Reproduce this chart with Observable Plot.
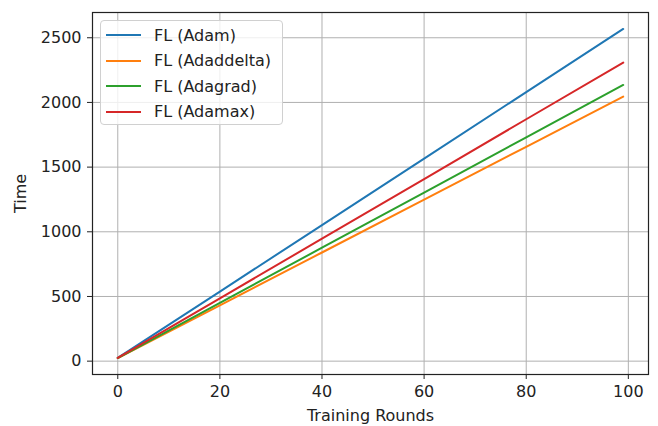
<!DOCTYPE html>
<html>
<head>
<meta charset="utf-8">
<script src="https://cdn.jsdelivr.net/npm/d3@7"></script>
<script src="https://cdn.jsdelivr.net/npm/@observablehq/plot@0.6"></script>
<style>
  body { margin: 0; background: #fff; }
  #wrap { position: relative; width: 658px; height: 426px; font-family: "DejaVu Sans", sans-serif; }
  #legend { position: absolute; left: 100px; top: 20px; width: 181px; height: 103px;
    border: 1px solid #d0d0d0; border-radius: 4px; background: rgba(255,255,255,0.8); box-sizing: content-box; }
  .row { position: absolute; left: 0; height: 20px; display: flex; align-items: center; }
  .sw { width: 35px; height: 0; border-top: 2.4px solid; margin-left: 5px; margin-right: 13px; }
  .lab { font-size: 16px; color: #222; white-space: nowrap; }
</style>
</head>
<body>
<div id="wrap"></div>
<script>
const seriesNames = ["FL (Adam)", "FL (Adaddelta)", "FL (Adagrad)", "FL (Adamax)"];
const seriesColors = ["#1f77b4", "#ff7f0e", "#2ca02c", "#d62728"];
const rounds = [0, 20, 40, 60, 80, 99];
const adamTime     = [25, 538, 1052, 1566, 2080, 2568];
const adadeltaTime = [24, 432, 840, 1249, 1657, 2045];
const adagradTime  = [24, 450, 877, 1303, 1730, 2135];
const adamaxTime   = [25, 485, 947, 1408, 1870, 2308];
const xTicks = [0, 20, 40, 60, 80, 100];
const yTicks = [0, 500, 1000, 1500, 2000, 2500];

const seriesValues = [adamTime, adadeltaTime, adagradTime, adamaxTime];
const data = seriesNames.flatMap((name, i) =>
  rounds.map((r, j) => ({series: name, round: r, time: seriesValues[i][j]})));

// matplotlib-like 5% margins
const xExt = d3.extent(rounds), yExt = d3.extent(data, d => d.time);
const xPad = (xExt[1] - xExt[0]) * 0.05, yPad = (yExt[1] - yExt[0]) * 0.05;

const chart = Plot.plot({
  width: 658,
  height: 426,
  marginLeft: 92,
  marginRight: 10,
  marginTop: 12,
  marginBottom: 52,
  style: {fontFamily: "DejaVu Sans, sans-serif", fontSize: "16px", color: "#222", background: "#fff"},
  x: {domain: [xExt[0] - xPad, xExt[1] + xPad]},
  y: {domain: [yExt[0] - yPad, yExt[1] + yPad]},
  color: {domain: seriesNames, range: seriesColors},
  marks: [
    Plot.gridX(xTicks, {stroke: "#b0b0b0", strokeOpacity: 1, strokeWidth: 1}),
    Plot.gridY(yTicks, {stroke: "#b0b0b0", strokeOpacity: 1, strokeWidth: 1}),
    Plot.line(data, {x: "round", y: "time", z: "series", stroke: "series", strokeWidth: 2}),
    Plot.frame({stroke: "#222", strokeWidth: 1.2}),
    Plot.axisX(xTicks, {tickSize: 5, tickPadding: 6, stroke: "#222", fill: "#222", tickFormat: d3.format("d"),
      label: "Training Rounds", labelAnchor: "center", labelOffset: 46, labelArrow: "none"}),
    Plot.axisY(yTicks, {tickSize: 5, tickPadding: 6, stroke: "#222", fill: "#222", tickFormat: d3.format("d"),
      label: "Time", labelAnchor: "center", labelOffset: 78, labelArrow: "none"})
  ]
});

const wrap = document.getElementById("wrap");
wrap.appendChild(chart);

const legend = d3.select(wrap).append("div").attr("id", "legend");
const rowTops = [4, 29.5, 55, 80.5];
seriesNames.forEach((name, i) => {
  const row = legend.append("div").attr("class", "row").style("top", rowTops[i] + "px");
  row.append("div").attr("class", "sw").style("border-top-color", seriesColors[i]);
  row.append("span").attr("class", "lab").text(name);
});
</script>
</body>
</html>
